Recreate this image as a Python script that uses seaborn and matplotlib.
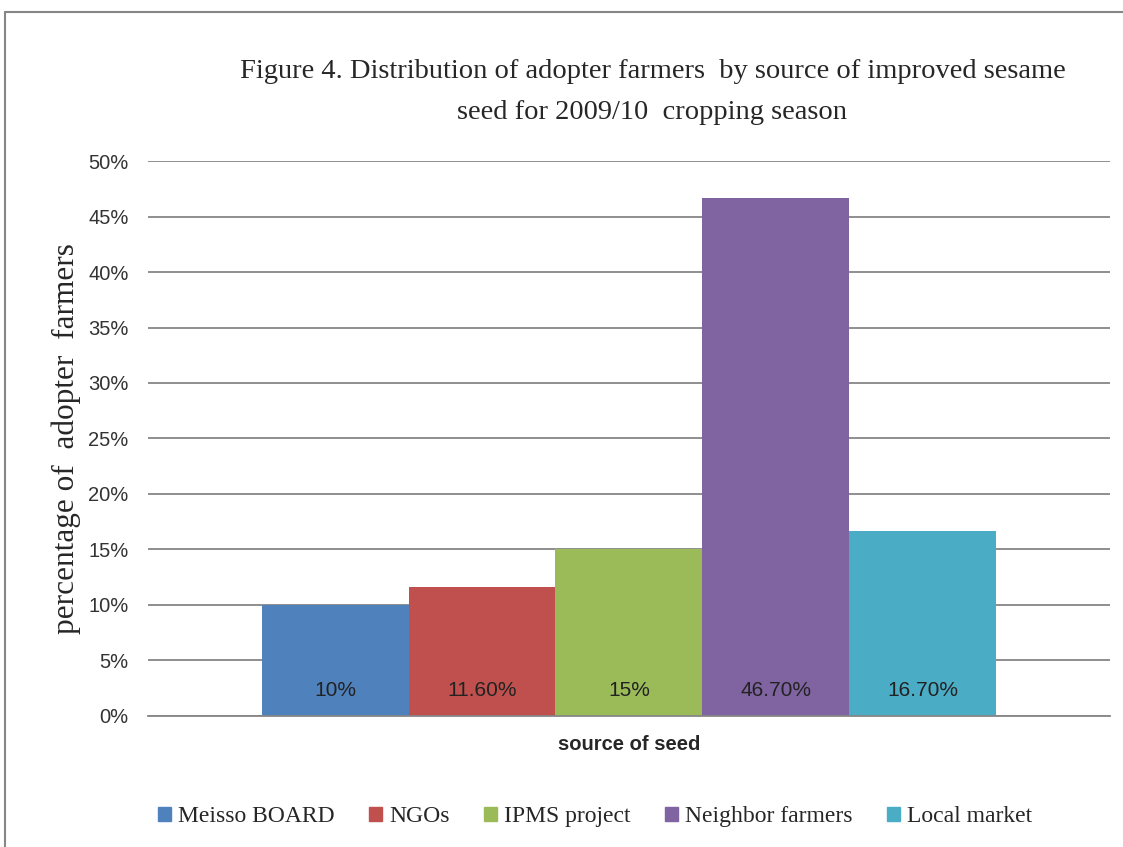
import pandas as pd
import seaborn as sns
import matplotlib.pyplot as plt
from matplotlib.lines import Line2D

# data
sources = ["Meisso BOARD", "NGOs", "IPMS project", "Neighbor farmers", "Local market"]
shares = [10.0, 11.6, 15.0, 46.7, 16.7]
labels = ["10%", "11.60%", "15%", "46.70%", "16.70%"]
colors = ["#4F81BD", "#C0504D", "#9BBB59", "#8064A2", "#4BACC6"]

df = pd.DataFrame({"cat": ["seed"] * len(sources), "source": sources, "share": shares})

sns.set_style("white")
serif = ["Liberation Serif", "DejaVu Serif"]
sans = ["Liberation Sans Narrow", "Liberation Sans", "DejaVu Sans"]

fig = plt.figure(figsize=(11.23, 8.47), dpi=100)
ax = fig.add_axes([0.1318, 0.1547, 0.8566, 0.6552])

sns.barplot(data=df, x="cat", y="share", hue="source", palette=colors,
            width=0.764, gap=0, saturation=1, linewidth=0, ax=ax, legend=False)

ax.set_ylim(0, 50)
ax.set_xlim(-0.5, 0.5)
ax.set_yticks(range(0, 51, 5))
ax.set_yticklabels([f"{v}%" for v in range(0, 51, 5)], fontsize=14.5, color="#333333",
                   family=sans)
ax.set_xticks([])
ax.tick_params(axis="y", length=0, pad=14)
ax.yaxis.grid(True, color="#868686", linewidth=1.3)
ax.set_axisbelow(True)
for s in ["top", "right", "left"]:
    ax.spines[s].set_visible(False)
ax.spines["bottom"].set_color("#868686")
ax.spines["bottom"].set_linewidth(1.3)

# data labels near the base of each bar
for patch, lab in zip(ax.patches, labels):
    ax.text(patch.get_x() + patch.get_width() / 2, 2.3, lab, ha="center", va="center",
            fontsize=15, family=sans, color="#222222")

ax.set_xlabel("source of seed", fontsize=14.5, fontweight="bold", family=sans, labelpad=14)
ax.set_ylabel("percentage of  adopter  farmers", fontsize=22.5, family=serif, labelpad=5)

fig.text(0.581, 0.916, "Figure 4. Distribution of adopter farmers  by source of improved sesame",
         ha="center", va="center", fontsize=20.5, family=serif)
fig.text(0.581, 0.867, "seed for 2009/10  cropping season",
         ha="center", va="center", fontsize=20.5, family=serif)

# legend at bottom
handles = [plt.Rectangle((0, 0), 1, 1, color=c) for c in colors]
fig.legend(handles, sources, loc="center", bbox_to_anchor=(0.53, 0.036), ncol=5,
           frameon=False, prop={"family": serif, "size": 17}, handlelength=0.55,
           handleheight=0.55, handletextpad=0.3, columnspacing=1.45)

# chart frame (top and left edges visible)
fig.add_artist(Line2D([0.0045, 1.0], [0.986, 0.986], color="#868686", linewidth=1.5))
fig.add_artist(Line2D([0.0045, 0.0045], [0.0, 0.986], color="#868686", linewidth=1.5))

fig.savefig("out.png", dpi=100)
